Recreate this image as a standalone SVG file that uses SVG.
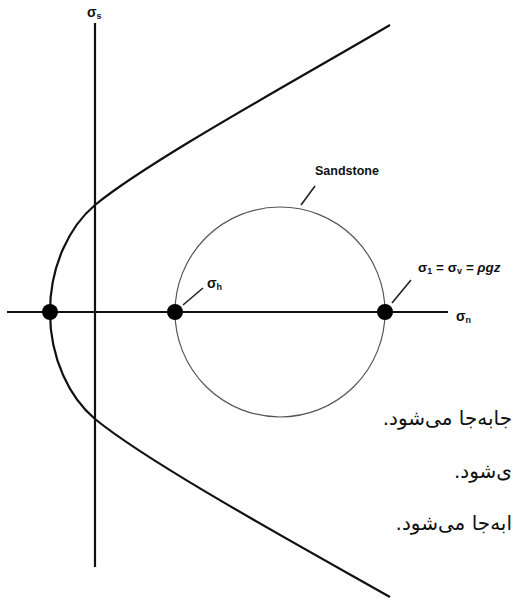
<svg xmlns="http://www.w3.org/2000/svg" width="514" height="600" viewBox="0 0 514 600">
<defs>
<style>
.axis{stroke:#111;stroke-width:2.2;fill:none}
.env{stroke:#111;stroke-width:2.2;fill:none}
.circ{stroke:#555;stroke-width:1.2;fill:none}
.lead{stroke:#222;stroke-width:1.6;fill:none}
.dot{fill:#000}
.lbl{font-family:"Liberation Sans",Arial,sans-serif;font-weight:bold;fill:#111}
.fa{font-family:"DejaVu Sans","Noto Sans",sans-serif;font-size:20px;fill:#111;direction:rtl;unicode-bidi:embed}
</style>
</defs>
<rect width="514" height="600" fill="#fff"/>
<g id="axes">
<line class="axis" x1="95" y1="23" x2="95" y2="567"/>
<line class="axis" x1="7" y1="312" x2="448" y2="312"/>
<text class="lbl" x="87" y="17" font-size="14">σ<tspan font-size="9" dy="2">s</tspan></text>
<text class="lbl" x="456" y="321" font-size="14">σ<tspan font-size="9" dy="2">n</tspan></text>
</g>
<g id="envelope">
<path class="env" d="M50,312 C50,265 70,226 95,205 C150,160 300,78 390,25"/>
<path class="env" d="M50,312 C50,359 70,398 95,419 C150,464 300,546 390,597"/>
</g>
<g id="sandstone">
<circle class="circ" cx="280" cy="312" r="105"/>
<text class="lbl" x="315" y="175" font-size="12.5">Sandstone</text>
</g>
<g id="connectors">
<line class="lead" x1="315" y1="186" x2="301" y2="205"/>
<line class="lead" x1="203" y1="288" x2="183" y2="305"/>
<line class="lead" x1="411" y1="280" x2="392" y2="303"/>
</g>
<g id="point-left"><circle class="dot" cx="50" cy="312" r="8"/></g>
<g id="point-sh">
<circle class="dot" cx="175" cy="312" r="8"/>
<text class="lbl" x="207" y="288" font-size="14">σ<tspan font-size="9" dy="2">h</tspan></text>
</g>
<g id="point-s1">
<circle class="dot" cx="385" cy="312" r="8"/>
<text class="lbl" x="418" y="272" font-size="13.5">σ<tspan font-size="9" dy="2">1</tspan><tspan dy="-2"> = σ</tspan><tspan font-size="9" dy="2">v</tspan><tspan dy="-2" font-style="italic"> = ρgz</tspan></text>
</g>
<g id="persian-text">
<text class="fa" x="512" y="425" text-anchor="start">جابه‌جا می‌شود.</text>
<text class="fa" x="512" y="478" text-anchor="start">ی‌شود.</text>
<text class="fa" x="512" y="530" text-anchor="start">ابه‌جا می‌شود.</text>
</g>
</svg>
